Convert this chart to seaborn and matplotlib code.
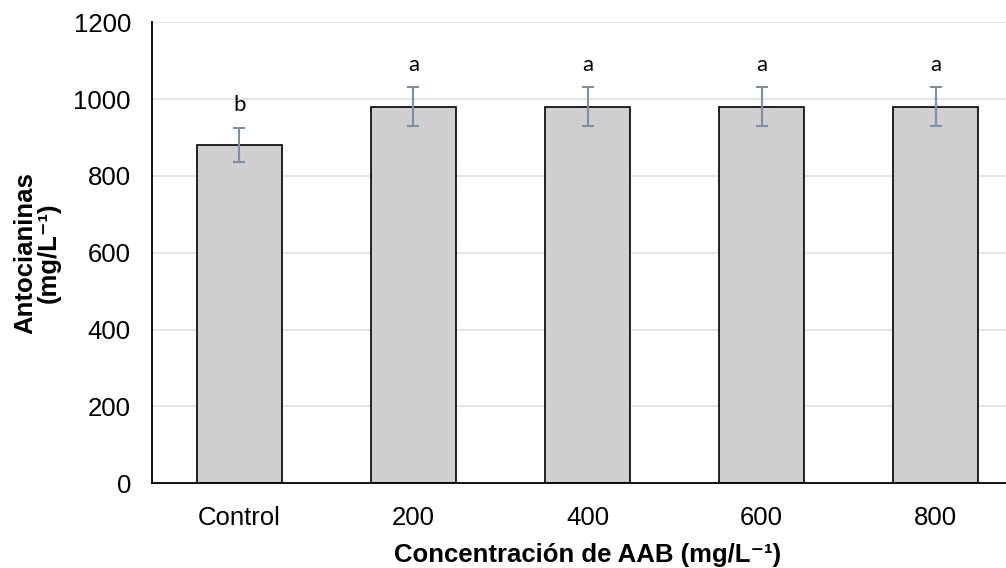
import seaborn as sns
import matplotlib.pyplot as plt
import pandas as pd
import numpy as np

# data
categories = ["Control", "200", "400", "600", "800"]
anthocyanins = [880, 980, 980, 980, 980]
std_dev = [45, 50, 50, 50, 50]
letters = ["b", "a", "a", "a", "a"]

df = pd.DataFrame({"conc": categories, "antocianinas": anthocyanins})

sns.set_style("white")
plt.rcParams["font.family"] = ["Liberation Sans", "DejaVu Sans"]
plt.rcParams["text.color"] = "black"
plt.rcParams["axes.labelcolor"] = "black"

fig = plt.figure(figsize=(10.06, 5.68), dpi=100)
ax = fig.add_axes([0.1515, 0.149, 0.865, 0.812])

sns.barplot(
    data=df,
    x="conc",
    y="antocianinas",
    color="#d0cece",
    edgecolor="black",
    linewidth=1.2,
    width=0.49,
    saturation=1,
    errorbar=None,
    ax=ax,
)
ax.errorbar(
    np.arange(len(categories)),
    anthocyanins,
    yerr=std_dev,
    fmt="none",
    ecolor="#7a8fa8",
    elinewidth=1.5,
    capsize=4.5,
    capthick=1.5,
    zorder=3,
)
# significance letters
for i, (m, s, l) in enumerate(zip(anthocyanins, std_dev, letters)):
    ax.text(i, m + s + 44, l, ha="center", va="baseline", fontsize=16,
            color="black", family=["Lato", "Liberation Sans", "DejaVu Sans"])

ax.set_ylim(0, 1200)
ax.set_xlim(-0.5, 4.5)
ax.set_yticks(range(0, 1201, 200))
ax.yaxis.grid(True, color="#dde1e6", linewidth=1.2)
ax.set_axisbelow(True)
for side in ["right", "top"]:
    ax.spines[side].set_visible(False)
for side in ["left", "bottom"]:
    ax.spines[side].set_color("black")
    ax.spines[side].set_linewidth(1.3)
ax.tick_params(axis="both", length=0, labelsize=18.5, colors="black")
ax.tick_params(axis="x", pad=16)
ax.tick_params(axis="y", pad=15.5)

ax.set_xlabel("Concentración de AAB (mg/L⁻¹)", fontsize=18.5,
              fontweight="bold", labelpad=10, color="black")
ax.set_ylabel("Antocianinas\n(mg/L⁻¹)", fontsize=18.5,
              fontweight="bold", labelpad=9, linespacing=1.0, color="black")

fig.savefig("out.png", dpi=100)
